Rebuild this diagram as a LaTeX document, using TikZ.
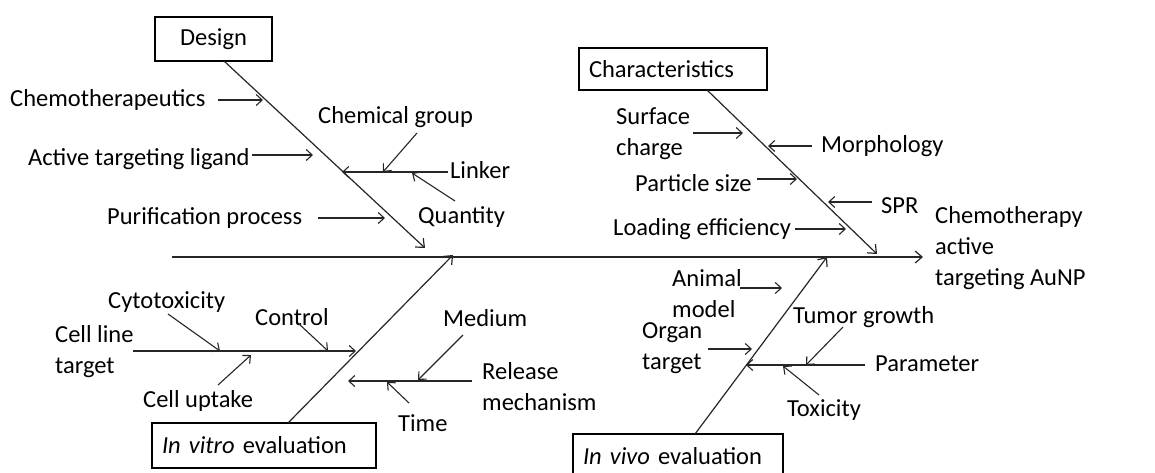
\documentclass[tikz,border=0pt]{standalone}
\usepackage{fontspec}
\setmainfont{Carlito}
\usetikzlibrary{arrows.meta}
\begin{document}
\begin{tikzpicture}[x=1pt,y=-1pt,
  lbl/.style={anchor=west,inner sep=0pt,align=left,font=\fontsize{24.5}{31}\selectfont},
  catbox/.style={draw,line width=2pt,inner xsep=10pt,inner ysep=0pt,align=left,font=\fontsize{24.5}{31}\selectfont},
  arr/.style={line width=1.1pt,draw=black!85,-{Straight Barb[length=6pt,width=11pt]}},
  bone/.style={line width=1.2pt,draw=black!85,-{Straight Barb[length=7pt,width=12pt]}}]
\useasboundingbox (0,0) rectangle (1155,472);
\clip (0,0) rectangle (1155,472);
% spine
\coordinate (s0) at (172,257);
\coordinate (s1) at (923,257);
\draw[bone] (s0) -- (s1);
\node[lbl] (goal) at (935,248) {Chemotherapy\\active\\targeting AuNP};
% category boxes
\node[catbox,minimum width=117,minimum height=44,align=center] (design) at (213.5,39) {Design};
\node[catbox,text width=168,minimum height=42] (charac) at (673,69) {Characteristics};
\node[catbox,text width=204,minimum height=45] (vitro) at (264,445.5) {\textit{In vitro} evaluation};
\node[catbox,text width=190,minimum height=45] (vivo) at (678,456.5) {\textit{In vivo} evaluation};
% bones
\coordinate (d0) at (224,61);   \coordinate (d1) at (425,248);
\coordinate (c0) at (707,90);   \coordinate (c1) at (877,254);
\coordinate (v0) at (288,423);  \coordinate (v1) at (453,255);
\coordinate (w0) at (695,434);  \coordinate (w1) at (827,257);
\draw[bone] (d0) -- (d1);
\draw[bone] (c0) -- (c1);
\draw[bone] (v0) -- (v1);
\draw[bone] (w0) -- (w1);
% Design causes
\node[lbl] (chemo) at (10,100) {Chemotherapeutics};
\coordinate (a1s) at (218,100); \coordinate (a1e) at (263,100);
\draw[arr] (a1s) -- (a1e);
\node[lbl] (ligand) at (28,159) {Active targeting ligand};
\coordinate (a2s) at (252,155); \coordinate (a2e) at (313,155);
\draw[arr] (a2s) -- (a2e);
\node[lbl] (purif) at (107,218) {Purification process};
\coordinate (a3s) at (318,218); \coordinate (a3e) at (385,218);
\draw[arr] (a3s) -- (a3e);
\node[lbl] (linker) at (450,170) {Linker};
\coordinate (l0) at (448,172); \coordinate (l1) at (342,172);
\draw[arr] (l0) -- (l1);
\node[lbl] (chemgrp) at (318,117) {Chemical group};
\coordinate (a4s) at (417,133); \coordinate (a4e) at (383,172);
\draw[arr] (a4s) -- (a4e);
\node[lbl] (quant) at (418,217) {Quantity};
\coordinate (a5s) at (455,201); \coordinate (a5e) at (412,173);
\draw[arr] (a5s) -- (a5e);
% Characteristics causes
\node[lbl] (surf) at (616,134) {Surface\\charge};
\coordinate (b1s) at (693,133); \coordinate (b1e) at (743,133);
\draw[arr] (b1s) -- (b1e);
\node[lbl] (morph) at (821,146) {Morphology};
\coordinate (b2s) at (812,146); \coordinate (b2e) at (768,146);
\draw[arr] (b2s) -- (b2e);
\node[lbl] (psize) at (635,183) {Particle size};
\coordinate (b3s) at (757,179); \coordinate (b3e) at (797,179);
\draw[arr] (b3s) -- (b3e);
\node[lbl] (spr) at (881,206) {SPR};
\coordinate (b4s) at (872,202); \coordinate (b4e) at (828,202);
\draw[arr] (b4s) -- (b4e);
\node[lbl] (load) at (613,229) {Loading efficiency};
\coordinate (b5s) at (795,229); \coordinate (b5e) at (846,229);
\draw[arr] (b5s) -- (b5e);
% In vitro causes
\node[lbl] (cellline) at (55,352) {Cell line\\target};
\coordinate (m0) at (133,351); \coordinate (m1) at (356,351);
\draw[arr] (m0) -- (m1);
\node[lbl] (cyto) at (108,302) {Cytotoxicity};
\coordinate (e1s) at (168,314); \coordinate (e1e) at (220,351);
\draw[arr] (e1s) -- (e1e);
\node[lbl] (control) at (255,317) {Control};
\coordinate (e2s) at (298,323); \coordinate (e2e) at (328,351);
\draw[arr] (e2s) -- (e2e);
\node[lbl] (uptake) at (143,401) {Cell uptake};
\coordinate (e3s) at (218,385); \coordinate (e3e) at (251,355);
\draw[arr] (e3s) -- (e3e);
\node[lbl] (release) at (482,387) {Release\\mechanism};
\coordinate (r0) at (472,381); \coordinate (r1) at (348,381);
\draw[arr] (r0) -- (r1);
\node[lbl] (medium) at (443,318) {Medium};
\coordinate (e4s) at (463,335); \coordinate (e4e) at (418,380);
\draw[arr] (e4s) -- (e4e);
\node[lbl] (time) at (398,423) {Time};
\coordinate (e5s) at (409,403); \coordinate (e5e) at (387,382);
\draw[arr] (e5s) -- (e5e);
% In vivo causes
\node[lbl] (animal) at (672,294) {Animal\\model};
\coordinate (f1s) at (740,288); \coordinate (f1e) at (782,288);
\draw[arr] (f1s) -- (f1e);
\node[lbl] (organ) at (642,348) {Organ\\target};
\coordinate (f2s) at (708,349); \coordinate (f2e) at (752,349);
\draw[arr] (f2s) -- (f2e);
\node[lbl] (param) at (875,364) {Parameter};
\coordinate (p0) at (865,365); \coordinate (p1) at (746,365);
\draw[arr] (p0) -- (p1);
\node[lbl] (tumor) at (793,317) {Tumor growth};
\coordinate (f3s) at (843,327); \coordinate (f3e) at (806,365);
\draw[arr] (f3s) -- (f3e);
\node[lbl] (toxic) at (787,410) {Toxicity};
\coordinate (f4s) at (819,395); \coordinate (f4e) at (783,366);
\draw[arr] (f4s) -- (f4e);
\end{tikzpicture}
\end{document}
